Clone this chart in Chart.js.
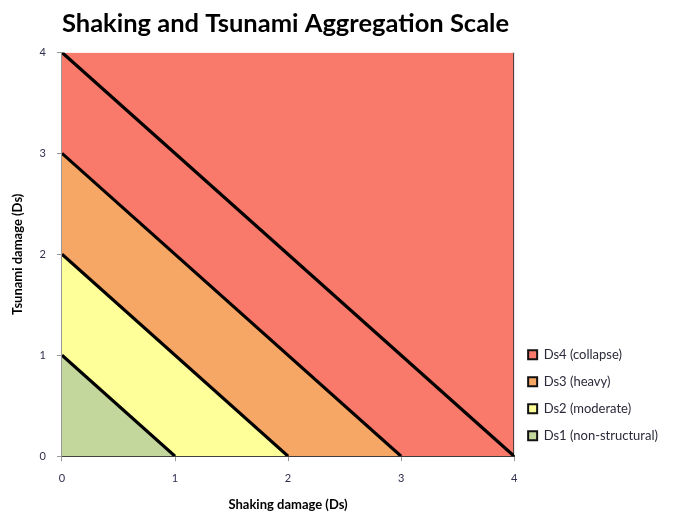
<!DOCTYPE html>
<html>
<head>
<meta charset="utf-8">
<script src="https://cdn.jsdelivr.net/npm/chart.js@4.4.1/dist/chart.umd.min.js"></script>
<style>
  html, body { margin: 0; padding: 0; background: #ffffff; }
  #wrap { width: 681px; height: 518px; position: relative; }
</style>
</head>
<body>
<div id="wrap"><canvas id="chart"></canvas></div>
<script>
// Damage states, lowest to highest
const damageStates = ['Ds1 (non-structural)', 'Ds2 (moderate)', 'Ds3 (heavy)', 'Ds4 (collapse)'];
// Combined shaking + tsunami Ds at which each state's upper boundary lies
const boundaries = [1, 2, 3, 4];
const stateColors = ['#C3D69B', '#FFFF99', '#F7A765', '#F97A6B'];
// Axis range and tick values (Ds)
const axisMin = 0;
const axisMax = 4;
const tickValues = [0, 1, 2, 3, 4];

const FONT = 'Lato, "Open Sans", "Liberation Sans", sans-serif';

// One filled triangle per damage state, bounded by the diagonal x + y = boundary
const stateSets = damageStates.map((label, i) => ({
  label: label,
  data: [{ x: axisMin, y: boundaries[i] }, { x: boundaries[i], y: axisMin }],
  showLine: true,
  fill: 'origin',
  backgroundColor: stateColors[i],
  borderColor: '#000000',
  borderWidth: 3.2,
  pointRadius: 0,
  pointHoverRadius: 0
}));

// Remaining area beyond the last diagonal is still collapse
const capSet = {
  label: 'cap',
  data: [{ x: axisMin, y: axisMax }, { x: axisMax, y: axisMax }, { x: axisMax, y: axisMin }],
  showLine: true,
  fill: 'origin',
  backgroundColor: stateColors[3],
  borderWidth: 2,
  segment: { borderColor: ctx => ctx.p0DataIndex === 0 ? 'rgba(0,0,0,0)' : '#3a3a3a' },
  pointRadius: 0,
  pointHoverRadius: 0
};

const tickFont = { family: FONT, size: 11 };
const tickColor = '#2f2f4f';

new Chart(document.getElementById('chart'), {
  type: 'scatter',
  data: { datasets: [...stateSets, capSet] },
  options: {
    responsive: true,
    maintainAspectRatio: false,
    animation: false,
    layout: { padding: { left: 3, right: 13, top: 0, bottom: 0 } },
    plugins: {
      tooltip: { enabled: false },
      title: {
        display: true,
        text: 'Shaking and Tsunami Aggregation Scale',
        color: '#000000',
        font: { family: FONT, size: 25.5, weight: 'bold' },
        padding: { top: 8.5, bottom: 13.3 },
        align: 'start',
        fullSize: false
      },
      legend: {
        position: 'right',
        align: 'end',
        reverse: true,
        fullSize: false,
        labels: {
          boxWidth: 9,
          boxHeight: 9,
          padding: 14,
          color: '#2a2a3a',
          font: { family: FONT, size: 13 },
          filter: item => item.datasetIndex < damageStates.length,
          generateLabels: chart => {
            const items = Chart.defaults.plugins.legend.labels.generateLabels(chart);
            items.forEach(it => { it.lineWidth = 2; it.strokeStyle = '#111111'; });
            return items;
          }
        }
      }
    },
    scales: {
      x: {
        type: 'linear',
        min: axisMin,
        max: axisMax,
        z: 1,
        afterBuildTicks: axis => { axis.ticks = tickValues.map(v => ({ value: v })); },
        ticks: { font: tickFont, color: tickColor, padding: 11 },
        grid: { drawOnChartArea: false, tickLength: 5, tickColor: '#999999' },
        border: { color: '#3a3a3a', width: 2 },
        title: {
          display: true,
          text: 'Shaking damage (Ds)',
          color: '#000000',
          font: { family: FONT, size: 13, weight: 'bold' },
          padding: { top: 1, bottom: 5 }
        }
      },
      y: {
        type: 'linear',
        min: axisMin,
        max: axisMax,
        afterBuildTicks: axis => { axis.ticks = tickValues.map(v => ({ value: v })); },
        ticks: { font: tickFont, color: tickColor, padding: 11 },
        grid: { drawOnChartArea: false, tickLength: 5, tickColor: '#999999' },
        border: { color: '#999999', width: 1 },
        title: {
          display: true,
          text: 'Tsunami damage (Ds)',
          color: '#000000',
          font: { family: FONT, size: 13, weight: 'bold' },
          padding: { top: 7, bottom: 3 }
        }
      }
    }
  }
});
</script>
</body>
</html>
